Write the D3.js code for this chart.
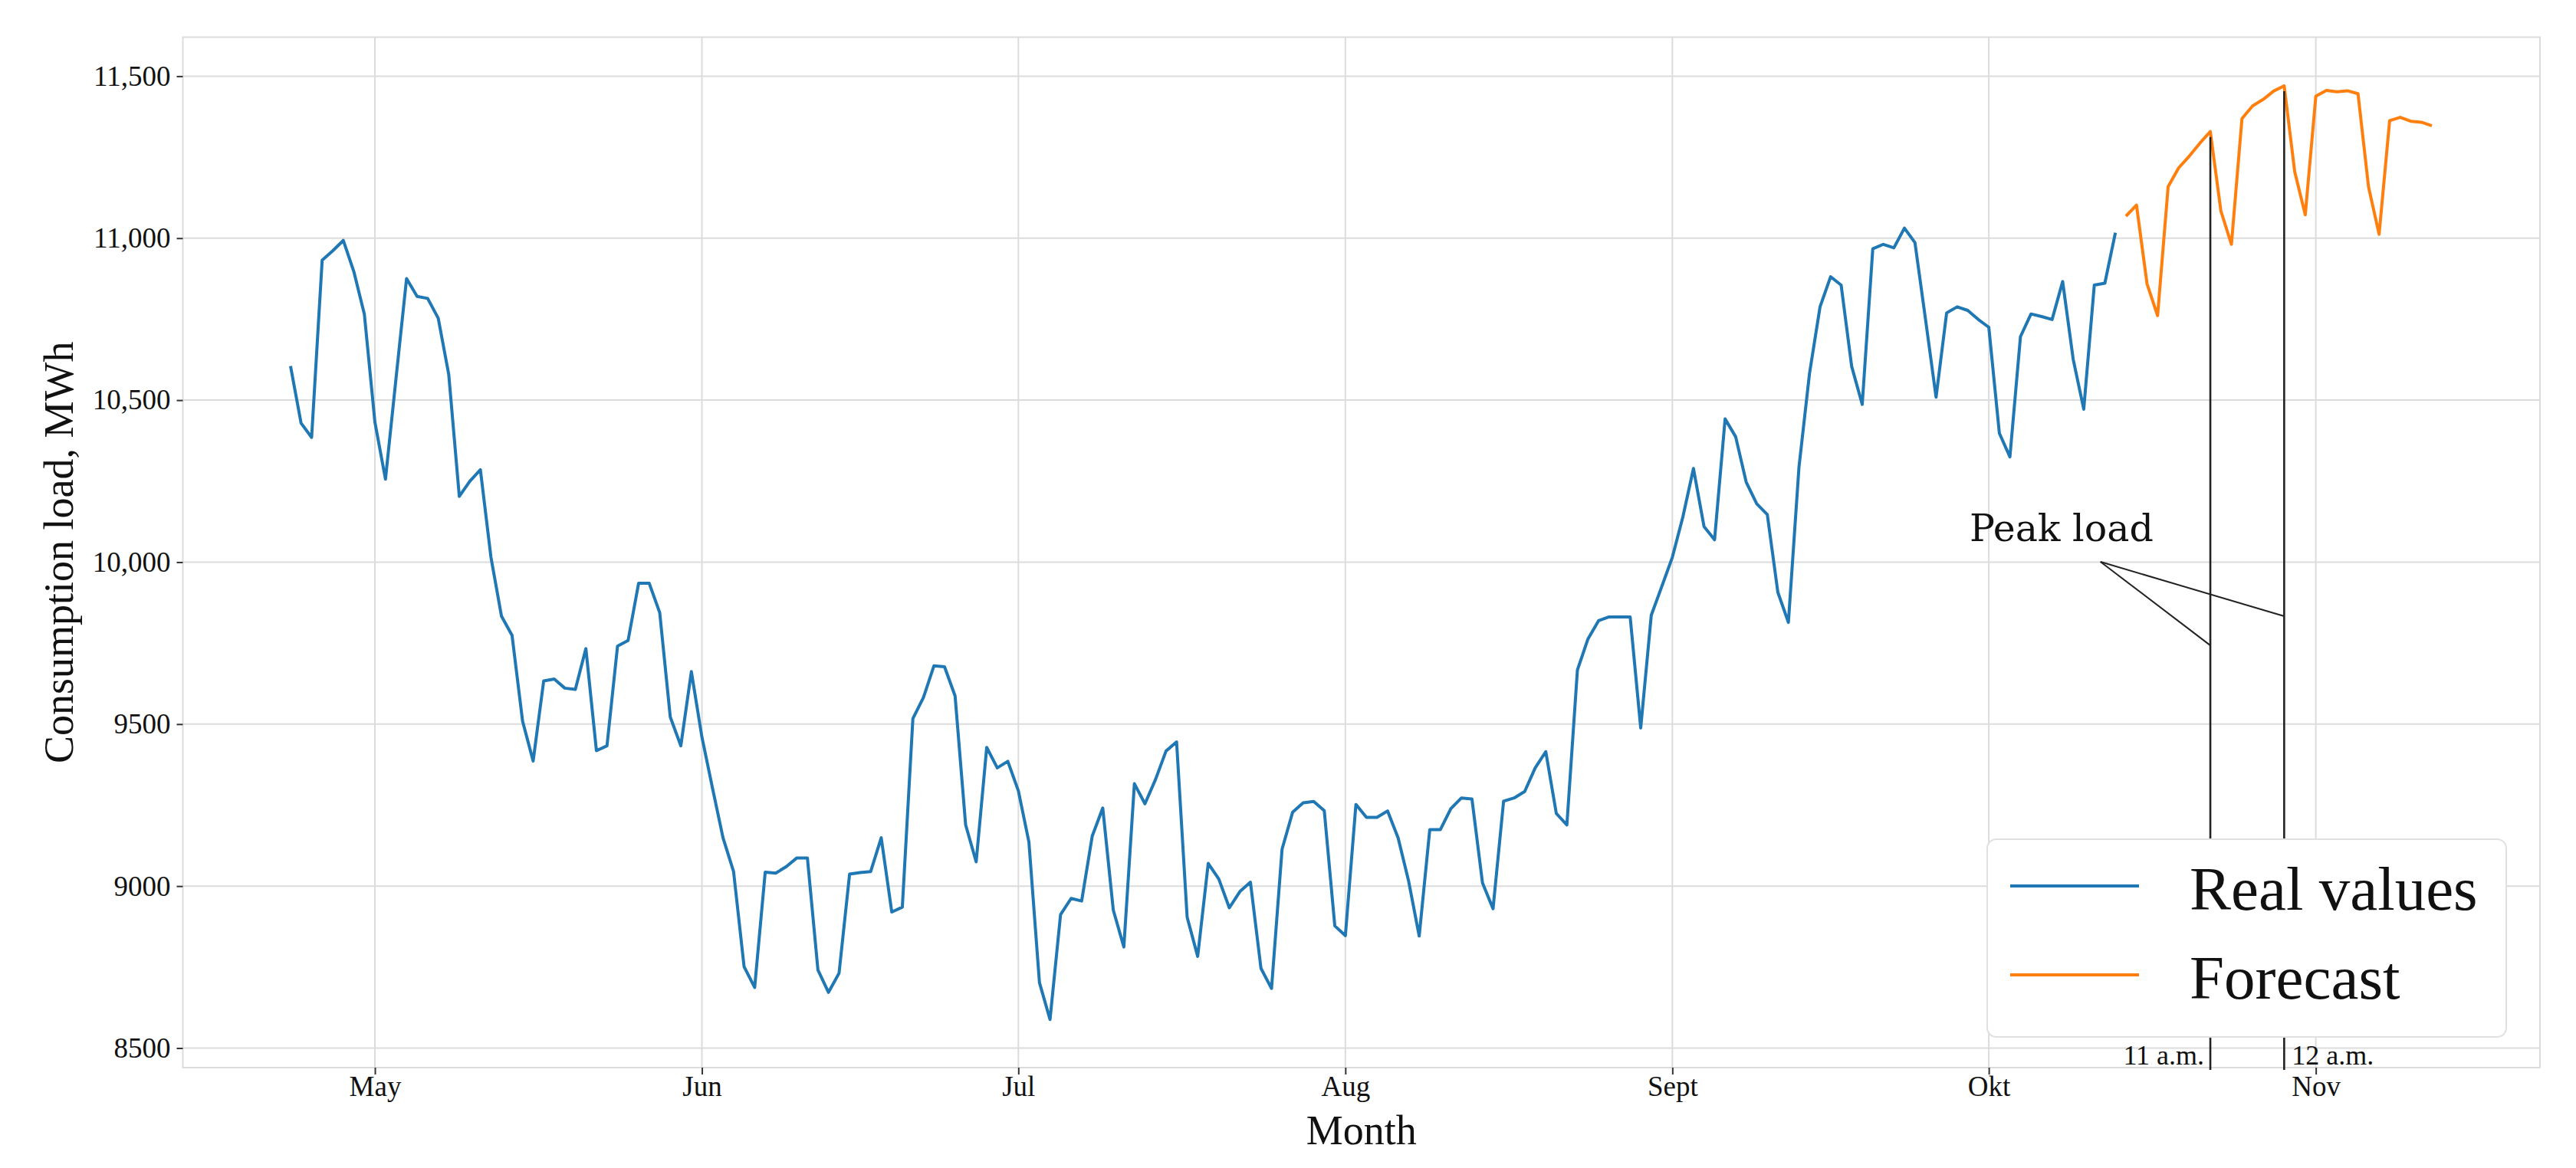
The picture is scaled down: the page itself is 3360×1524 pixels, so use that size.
<!DOCTYPE html>
<html>
<head>
<meta charset="utf-8">
<script src="https://cdn.jsdelivr.net/npm/d3@7"></script>
<style>
  body { margin: 0; background: #fff; }
  text { font-family: "Liberation Serif", "Times New Roman", serif; fill: #111; }
</style>
</head>
<body>
<div id="load-chart"></div>
<script>
// daily consumption load, real values from 23 Apr, forecast from 14 Oct
var realStart = new Date(Date.UTC(2019, 3, 23));
var realValues = [
  10605, 10429, 10385, 10932, 10961, 10993, 10897, 10765,
  10432, 10256, 10567, 10875, 10820, 10814, 10753, 10579, 10203, 10250,
  10285, 10015, 9833, 9774, 9509, 9386, 9633, 9639, 9611, 9607,
  9733, 9418, 9433, 9741, 9758, 9935, 9935, 9844, 9522, 9433,
  9662, 9460, 9303, 9149, 9045, 8751, 8687, 9043, 9040, 9060,
  9087, 9087, 8741, 8672, 8731, 9037, 9042, 9045, 9149, 8920,
  8935, 9517, 9582, 9680, 9677, 9587, 9189, 9075, 9428, 9365,
  9385, 9294, 9136, 8702, 8588, 8912, 8962, 8954, 9154, 9241,
  8926, 8812, 9316, 9254, 9329, 9417, 9445, 8904, 8783, 9070,
  9022, 8933, 8983, 9012, 8746, 8684, 9114, 9228, 9257, 9261,
  9233, 8877, 8847, 9252, 9212, 9212, 9232, 9149, 9015, 8846,
  9174, 9174, 9239, 9272, 9269, 9010, 8930, 9262, 9272, 9292,
  9365, 9415, 9224, 9189, 9667, 9763, 9819, 9831, 9831, 9831,
  9488, 9836, 9925, 10015, 10140, 10289, 10110, 10069, 10442, 10387,
  10247, 10180, 10147, 9907, 9814, 10292, 10582, 10788, 10881, 10855,
  10604, 10487, 10967, 10981, 10970, 11031, 10986, 10749, 10509, 10769,
  10788, 10777, 10749, 10725, 10398, 10325, 10696, 10766, 10758, 10749,
  10866, 10626, 10472, 10855, 10861, 11017
];
var forecastStart = new Date(Date.UTC(2019, 9, 14));
var forecastValues = [
  11068, 11102, 10859, 10761, 11159, 11217, 11253, 11293, 11329, 11084,
  10981, 11369, 11408, 11428, 11454, 11470, 11205, 11072, 11438, 11456,
  11452, 11455, 11446, 11158, 11012, 11363, 11373, 11361, 11358, 11347
];

var yTicks = [8500, 9000, 9500, 10000, 10500, 11000, 11500];
var yTickLabels = ["8500", "9000", "9500", "10,000", "10,500", "11,000", "11,500"];
var monthTicks = [
  new Date(Date.UTC(2019, 4, 1)), new Date(Date.UTC(2019, 5, 1)),
  new Date(Date.UTC(2019, 6, 1)), new Date(Date.UTC(2019, 7, 1)),
  new Date(Date.UTC(2019, 8, 1)), new Date(Date.UTC(2019, 9, 1)),
  new Date(Date.UTC(2019, 10, 1))
];
var monthLabels = ["May", "Jun", "Jul", "Aug", "Sept", "Okt", "Nov"];

// peak load annotation
var peakDates = [new Date(Date.UTC(2019, 9, 22)), new Date(Date.UTC(2019, 9, 29))];
var peakLabels = ["11 a.m.", "12 a.m."];
var peakArrowEnds = [9743, 9833]; // value where each pointer meets its line
var peakArrowStart = [new Date(Date.UTC(2019, 9, 11, 14)), 10001];
var peakTextAt = [new Date(Date.UTC(2019, 8, 29, 4)), 10065];

var seriesNames = ["Real values", "Forecast"];
var colors = ["#1f77b4", "#ff7f0e"];

var w = 3360;
var h = 1524;
var margin = { top: 48.5, right: 47, bottom: 131, left: 238.5 };
var width = w - margin.left - margin.right;
var height = h - margin.top - margin.bottom;

var real = realValues.map(function (v, i) {
  return { date: d3.utcDay.offset(realStart, i), value: v };
});
var forecast = forecastValues.map(function (v, i) {
  return { date: d3.utcDay.offset(forecastStart, i), value: v };
});

var x = d3
  .scaleUtc()
  .domain([new Date(Date.UTC(2019, 3, 12, 19)), new Date(Date.UTC(2019, 10, 22, 6))])
  .range([0, width]);
var y = d3.scaleLinear().domain([8439.7, 11620.4]).range([height, 0]);

var svg = d3
  .select("#load-chart")
  .append("svg")
  .attr("width", w)
  .attr("height", h)
  .style("background", "#fff");

var g = svg.append("g").attr("transform", `translate(${margin.left},${margin.top})`);

// grid
g.append("g")
  .selectAll("line")
  .data(yTicks)
  .enter()
  .append("line")
  .attr("x1", 0)
  .attr("x2", width)
  .attr("y1", (d) => y(d))
  .attr("y2", (d) => y(d))
  .attr("stroke", "#dcdcdc")
  .attr("stroke-width", 2);

g.append("g")
  .selectAll("line")
  .data(monthTicks)
  .enter()
  .append("line")
  .attr("x1", (d) => x(d))
  .attr("x2", (d) => x(d))
  .attr("y1", 0)
  .attr("y2", height)
  .attr("stroke", "#dcdcdc")
  .attr("stroke-width", 2);

// frame
g.append("rect")
  .attr("width", width)
  .attr("height", height)
  .attr("fill", "none")
  .attr("stroke", "#dcdcdc")
  .attr("stroke-width", 2);

// axes
var yAxis = g
  .append("g")
  .call(
    d3
      .axisLeft(y)
      .tickValues(yTicks)
      .tickFormat((d, i) => yTickLabels[i])
      .tickSize(8)
      .tickPadding(8)
  );
var xAxis = g
  .append("g")
  .attr("transform", `translate(0,${height})`)
  .call(
    d3
      .axisBottom(x)
      .tickValues(monthTicks)
      .tickFormat((d, i) => monthLabels[i])
      .tickSize(9)
      .tickPadding(2)
  );
[yAxis, xAxis].forEach(function (a) {
  a.attr("font-family", null).attr("font-size", 37);
  a.select(".domain").remove();
  a.selectAll(".tick line").attr("stroke", "#333").attr("stroke-width", 2);
  a.selectAll(".tick text").style("fill", "#111");
});

svg
  .append("text")
  .attr("transform", `translate(95,${margin.top + height / 2}) rotate(-90)`)
  .attr("text-anchor", "middle")
  .attr("font-size", 54)
  .text("Consumption load, MWh");

svg
  .append("text")
  .attr("x", margin.left + width / 2)
  .attr("y", 1493)
  .attr("text-anchor", "middle")
  .attr("font-size", 54)
  .text("Month");

// series
var line = d3
  .line()
  .x((d) => x(d.date))
  .y((d) => y(d.value));

[real, forecast].forEach(function (s, i) {
  g.append("path")
    .datum(s)
    .attr("fill", "none")
    .attr("stroke", colors[i])
    .attr("stroke-width", 4)
    .attr("stroke-linejoin", "round")
    .attr("d", line);
});

// peak markers: vertical line from the forecast peak down to the axis
var peakRows = peakDates.map(function (d, i) {
  var f = forecast.find((p) => +p.date === +d);
  return { date: d, top: f.value, label: peakLabels[i], end: peakArrowEnds[i] };
});

g.append("g")
  .selectAll("line")
  .data(peakRows)
  .enter()
  .append("line")
  .attr("x1", (d) => x(d.date))
  .attr("x2", (d) => x(d.date))
  .attr("y1", (d) => y(d.top) + 7)
  .attr("y2", height + 3)
  .attr("stroke", "#222")
  .attr("stroke-width", 2.6);

g.append("g")
  .selectAll("line")
  .data(peakRows)
  .enter()
  .append("line")
  .attr("x1", x(peakArrowStart[0]))
  .attr("y1", y(peakArrowStart[1]))
  .attr("x2", (d) => x(d.date))
  .attr("y2", (d) => y(d.end))
  .attr("stroke", "#222")
  .attr("stroke-width", 2);

g.append("text")
  .attr("x", x(peakTextAt[0]))
  .attr("y", y(peakTextAt[1]))
  .style("font-family", "'DejaVu Serif', serif")
  .attr("font-size", 49)
  .text("Peak load");

// legend
var legendW = 677;
var legendH = 258;
var legend = g
  .append("g")
  .attr("transform", `translate(${width - 44 - legendW},${height - 40 - legendH})`);

legend
  .append("rect")
  .attr("width", legendW)
  .attr("height", legendH)
  .attr("rx", 12)
  .attr("fill", "#fff")
  .attr("stroke", "#e0e0e0")
  .attr("stroke-width", 2);

var item = legend
  .selectAll(".item")
  .data(seriesNames)
  .enter()
  .append("g")
  .attr("class", "item")
  .attr("transform", (d, i) => `translate(0,${61 + i * 116})`);

item
  .append("line")
  .attr("x1", 30)
  .attr("x2", 198)
  .attr("stroke", (d, i) => colors[i])
  .attr("stroke-width", 4);

item
  .append("text")
  .attr("x", 264)
  .attr("y", 31)
  .attr("font-size", 81)
  .text((d) => d);

// hour labels next to the peak lines
g.append("g")
  .selectAll("text")
  .data(peakRows)
  .enter()
  .append("text")
  .attr("x", (d, i) => x(d.date) + (i === 0 ? -8 : 10))
  .attr("y", height - 4.5)
  .attr("text-anchor", (d, i) => (i === 0 ? "end" : "start"))
  .attr("font-size", 36)
  .text((d) => d.label);
</script>
</body>
</html>
